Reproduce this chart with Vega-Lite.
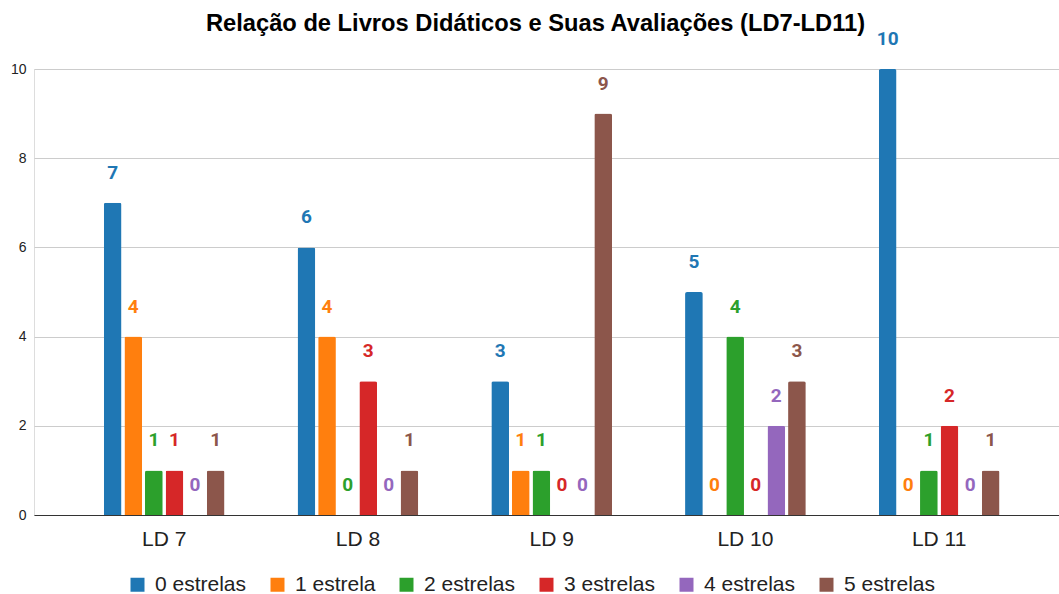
{
  "$schema": "https://vega.github.io/schema/vega-lite/v6.json",
  "autosize": {"type": "none"},
  "padding": {"left": 34, "top": 69, "right": 0, "bottom": 79},
  "width": 1025,
  "height": 446,
  "background": "white",
  "title": {
    "text": "Relação de Livros Didáticos e Suas Avaliações (LD7-LD11)",
    "font": "Liberation Sans",
    "fontSize": 23.7,
    "fontWeight": "bold",
    "color": "#000000",
    "anchor": "middle",
    "frame": "group",
    "dx": -11,
    "dy": 10
  },
  "data": {
    "values": [
      {"livro": "LD 7", "serie": "0 estrelas", "valor": 7},
      {"livro": "LD 7", "serie": "1 estrela", "valor": 4},
      {"livro": "LD 7", "serie": "2 estrelas", "valor": 1},
      {"livro": "LD 7", "serie": "3 estrelas", "valor": 1},
      {"livro": "LD 7", "serie": "4 estrelas", "valor": 0},
      {"livro": "LD 7", "serie": "5 estrelas", "valor": 1},
      {"livro": "LD 8", "serie": "0 estrelas", "valor": 6},
      {"livro": "LD 8", "serie": "1 estrela", "valor": 4},
      {"livro": "LD 8", "serie": "2 estrelas", "valor": 0},
      {"livro": "LD 8", "serie": "3 estrelas", "valor": 3},
      {"livro": "LD 8", "serie": "4 estrelas", "valor": 0},
      {"livro": "LD 8", "serie": "5 estrelas", "valor": 1},
      {"livro": "LD 9", "serie": "0 estrelas", "valor": 3},
      {"livro": "LD 9", "serie": "1 estrela", "valor": 1},
      {"livro": "LD 9", "serie": "2 estrelas", "valor": 1},
      {"livro": "LD 9", "serie": "3 estrelas", "valor": 0},
      {"livro": "LD 9", "serie": "4 estrelas", "valor": 0},
      {"livro": "LD 9", "serie": "5 estrelas", "valor": 9},
      {"livro": "LD 10", "serie": "0 estrelas", "valor": 5},
      {"livro": "LD 10", "serie": "1 estrela", "valor": 0},
      {"livro": "LD 10", "serie": "2 estrelas", "valor": 4},
      {"livro": "LD 10", "serie": "3 estrelas", "valor": 0},
      {"livro": "LD 10", "serie": "4 estrelas", "valor": 2},
      {"livro": "LD 10", "serie": "5 estrelas", "valor": 3},
      {"livro": "LD 11", "serie": "0 estrelas", "valor": 10},
      {"livro": "LD 11", "serie": "1 estrela", "valor": 0},
      {"livro": "LD 11", "serie": "2 estrelas", "valor": 1},
      {"livro": "LD 11", "serie": "3 estrelas", "valor": 2},
      {"livro": "LD 11", "serie": "4 estrelas", "valor": 0},
      {"livro": "LD 11", "serie": "5 estrelas", "valor": 1}
    ]
  },
  "encoding": {
    "x": {
      "field": "livro",
      "type": "nominal",
      "sort": ["LD 7", "LD 8", "LD 9", "LD 10", "LD 11"],
      "scale": {"paddingInner": 0.377, "paddingOuter": 0.3336, "align": 0.54},
      "axis": {
        "title": null,
        "labelAngle": 0,
        "labelFont": "Liberation Sans",
        "labelFontSize": 21,
        "labelColor": "#222222",
        "labelPadding": 13,
        "ticks": false,
        "domain": true,
        "domainColor": "#333333",
        "domainWidth": 1,
        "grid": false
      }
    },
    "xOffset": {
      "field": "serie",
      "type": "nominal",
      "scale": {"paddingInner": 0.14, "paddingOuter": 0}
    },
    "y": {
      "field": "valor",
      "type": "quantitative",
      "scale": {"domain": [0, 10], "nice": false},
      "axis": {
        "title": null,
        "values": [0, 2, 4, 6, 8, 10],
        "labelFont": "Liberation Sans",
        "labelFontSize": 14,
        "labelColor": "#222222",
        "labelPadding": 8,
        "ticks": false,
        "domain": false,
        "grid": true,
        "gridColor": "#cccccc",
        "gridWidth": 1
      }
    },
    "color": {
      "field": "serie",
      "type": "nominal",
      "scale": {
        "domain": ["0 estrelas", "1 estrela", "2 estrelas", "3 estrelas", "4 estrelas", "5 estrelas"],
        "range": ["#1f77b4", "#ff7f0e", "#2ca02c", "#d62728", "#9467bd", "#8c564b"]
      },
      "legend": {
        "title": null,
        "orient": "none",
        "direction": "horizontal",
        "legendX": 93,
        "legendY": 505,
        "symbolType": "square",
        "symbolSize": 196,
        "symbolStrokeWidth": 0,
        "labelFont": "Liberation Sans",
        "labelFontSize": 21,
        "labelColor": "#222222",
        "labelOffset": 7,
        "columnPadding": 20
      }
    }
  },
  "layer": [
    {
      "mark": {"type": "bar", "cornerRadiusTopLeft": 2, "cornerRadiusTopRight": 2}
    },
    {
      "mark": {
        "type": "text",
        "font": "Roboto",
        "fontSize": 19,
        "fontWeight": "bold",
        "baseline": "alphabetic",
        "align": "center",
        "dy": -24
      },
      "encoding": {
        "text": {"field": "valor", "type": "quantitative"}
      }
    }
  ]
}
